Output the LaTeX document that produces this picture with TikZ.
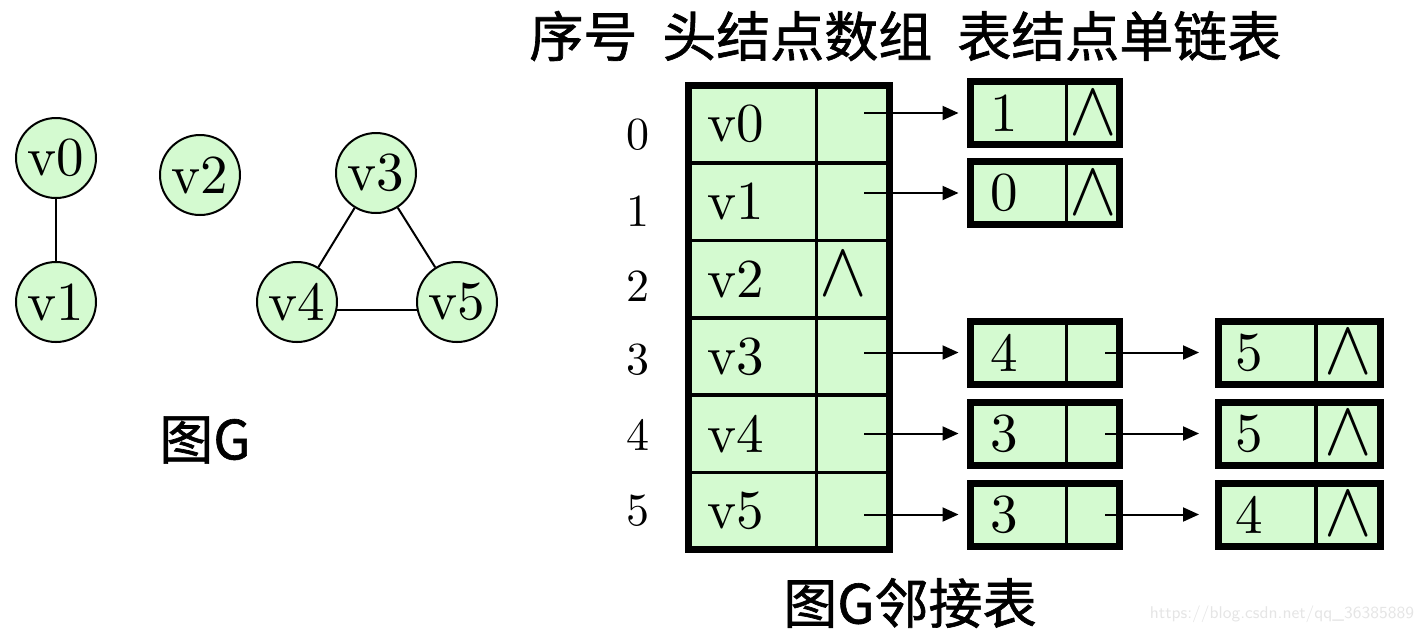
\documentclass[tikz,border=0pt]{standalone}
\usepackage{fontspec}
\setmainfont{lmroman10-regular.otf}
\newfontfamily\cjkfont{Noto Sans CJK SC}[FakeBold=1.2]
\usepackage{graphicx,xcolor}
\usepackage{tikz}
\usetikzlibrary{arrows.meta}
\usetikzlibrary{positioning}
\definecolor{cellgreen}{RGB}{212,250,208}
\newcommand{\nilmark}{\scalebox{1.43}[1.55]{\fontsize{24.88}{26}\selectfont$\wedge$}}
\tikzset{
    vertex/.style={circle, draw=black, fill=cellgreen, line width=1pt,
        minimum size=40pt, inner sep=0pt, font=\fontsize{27.5}{30}\selectfont},
    edge/.style={draw=black, line width=1pt},
    basecell/.style={rectangle, draw=black, fill=cellgreen, line width=1.8pt,
        inner sep=0pt, outer sep=0pt, font=\fontsize{27.5}{30}\selectfont},
    headcell/.style={basecell, minimum height=38.7pt,
        inner xsep=9.5pt, text width=45.25pt, align=left},
    firstcell/.style={basecell, minimum width=36.5pt, minimum height=38.7pt},
    datacell/.style={basecell, minimum height=31.5pt,
        inner xsep=10pt, text width=28pt, align=left},
    datacellb/.style={datacell, inner xsep=8.5pt, text width=32pt},
    nextcell/.style={basecell, minimum width=26.5pt, minimum height=31.5pt},
    nextcellb/.style={nextcell, minimum width=32pt},
    frame/.style={draw=black, line width=3.5pt},
    ptr/.style={draw=black, line width=1pt, -{Triangle[length=8pt, width=7pt]}},
    index/.style={font=\fontsize{23}{25}\selectfont},
    caption/.style={inner sep=0pt, font=\cjkfont\fontsize{27}{30}\selectfont},
}

\begin{document}
\begin{tikzpicture}[x=0.5pt, y=-0.5pt]
	\useasboundingbox (0,0) rectangle (1414,634);
	% graph G
	\node[vertex] (v0) at (56,158) {v0};
	\node[vertex] (v1) at (56,302) {v1};
	\node[vertex] (v2) at (200,175) {v2};
	\node[vertex] (v3) at (376,173) {v3};
	\node[vertex] (v4) at (297,302) {v4};
	\node[vertex] (v5) at (457,302) {v5};
	\draw[edge] (v0) -- (v1);
	\draw[edge] (v3) -- (v4);
	\draw[edge] (v3) -- (v5);
	\draw[edge] (v4.-11) -- (v5.191);
	\node[caption] (gname) at (205,440) {图G};

	\node[caption, anchor=west] (title) at (529,36) {序号\hspace{12.5pt}头结点数组\hspace{12.5pt}表结点单链表};

	% head array
	\node[headcell] (h0) at (752.25,124.2) {v0};
	\node[headcell, below=0pt of h0] (h1) {v1};
	\node[headcell, below=0pt of h1] (h2) {v2};
	\node[headcell, below=0pt of h2] (h3) {v3};
	\node[headcell, below=0pt of h3] (h4) {v4};
	\node[headcell, below=0pt of h4] (h5) {v5};
	\node[firstcell, right=0pt of h0] (p0) {};
	\node[firstcell, right=0pt of h1] (p1) {};
	\node[firstcell, right=0pt of h2] (p2) {\makebox[0pt]{\raisebox{4.5pt}{\nilmark}\hspace{9.5pt}\null}};
	\node[firstcell, right=0pt of h3] (p3) {};
	\node[firstcell, right=0pt of h4] (p4) {};
	\node[firstcell, right=0pt of h5] (p5) {};
	\draw[frame] (h0.north west) rectangle (p5.south east);

	\node[index] (n0) at (638,135) {0};
	\node[index] (n1) at (638,211) {1};
	\node[index] (n2) at (638,286) {2};
	\node[index] (n3) at (638,360) {3};
	\node[index] (n4) at (638,435) {4};
	\node[index] (n5) at (638,511) {5};

	% edge lists
	\node[datacell] (a0) at (1018.5,113) {1};
	\node[nextcell, right=0pt of a0] (a0n) {\nilmark};
	\draw[frame] (a0.north west) rectangle (a0n.south east);
	\node[datacell] (a1) at (1018.5,193) {0};
	\node[nextcell, right=0pt of a1] (a1n) {\nilmark};
	\draw[frame] (a1.north west) rectangle (a1n.south east);
	\node[datacell] (a3) at (1018.5,352.5) {4};
	\node[nextcell, right=0pt of a3] (a3n) {};
	\draw[frame] (a3.north west) rectangle (a3n.south east);
	\node[datacell] (a4) at (1018.5,433.5) {3};
	\node[nextcell, right=0pt of a4] (a4n) {};
	\draw[frame] (a4.north west) rectangle (a4n.south east);
	\node[datacell] (a5) at (1018.5,514.5) {3};
	\node[nextcell, right=0pt of a5] (a5n) {};
	\draw[frame] (a5.north west) rectangle (a5n.south east);

	\node[datacellb] (b3) at (1267,352.5) {5};
	\node[nextcellb, right=0pt of b3] (b3n) {\nilmark};
	\draw[frame] (b3.north west) rectangle (b3n.south east);
	\node[datacellb] (b4) at (1267,433.5) {5};
	\node[nextcellb, right=0pt of b4] (b4n) {\nilmark};
	\draw[frame] (b4.north west) rectangle (b4n.south east);
	\node[datacellb] (b5) at (1267,514.5) {4};
	\node[nextcellb, right=0pt of b5] (b5n) {\nilmark};
	\draw[frame] (b5.north west) rectangle (b5n.south east);

	\coordinate (s0) at (864,113);
	\coordinate (s1) at (864,193);
	\coordinate (s3) at (864,352.5);
	\coordinate (s4) at (864,433.5);
	\coordinate (s5) at (864,514.5);
	\draw[ptr, shorten >=6pt] (s0) -- (s0 -| a0.west);
	\draw[ptr, shorten >=6pt] (s1) -- (s1 -| a1.west);
	\draw[ptr, shorten >=6pt] (s3) -- (s3 -| a3.west);
	\draw[ptr, shorten >=6pt] (s4) -- (s4 -| a4.west);
	\draw[ptr, shorten >=6pt] (s5) -- (s5 -| a5.west);
	\draw[ptr, shorten >=9.5pt] ([xshift=6pt]a3n.center) -- (b3.west);
	\draw[ptr, shorten >=9.5pt] ([xshift=6pt]a4n.center) -- (b4.west);
	\draw[ptr, shorten >=9.5pt] ([xshift=6pt]a5n.center) -- (b5.west);

	\node[caption] (tname) at (910,603) {图G邻接表};
	\node[font=\sffamily\fontsize{8.5}{10}\selectfont, text=black!10] (mark) at (1282,614) {https://blog.csdn.net/qq\_36385889};
\end{tikzpicture}
\end{document}
